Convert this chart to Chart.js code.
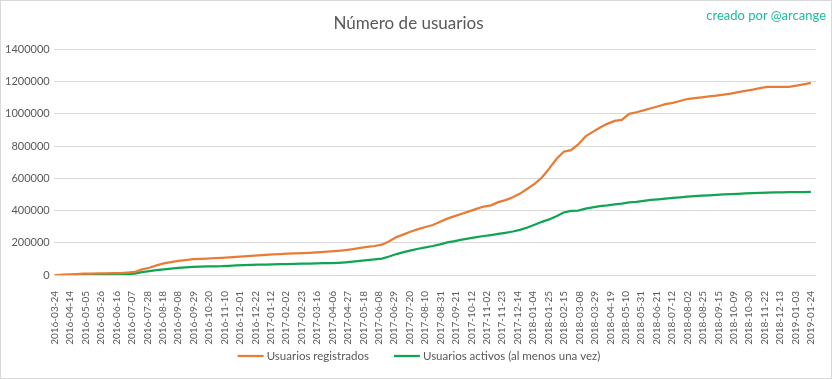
<!DOCTYPE html>
<html>
<head>
<meta charset="utf-8">
<script src="https://cdn.jsdelivr.net/npm/chart.js@4"></script>
<style>
  html, body { margin: 0; padding: 0; background: #fff; }
  #wrap { position: relative; width: 832px; height: 379px; box-sizing: border-box; border: 1px solid #d9d9d9; }
  canvas { position: absolute; left: 0; top: 0; }
  #credit { position: absolute; right: 5px; top: 6px; font-family: Lato, sans-serif; font-size: 13px; color: #1ABC9C; }
</style>
</head>
<body>
<div id="wrap">
  <canvas id="c" width="830" height="377"></canvas>
  <div id="credit">creado por @arcange</div>
</div>
<script>
// Tick labels (dates along the x axis)
const tickLabels = [
  "2016-03-24","2016-04-14","2016-05-05","2016-05-26","2016-06-16","2016-07-07","2016-07-28","2016-08-18",
  "2016-09-08","2016-09-29","2016-10-20","2016-11-10","2016-12-01","2016-12-22","2017-01-12","2017-02-02",
  "2017-02-23","2017-03-16","2017-04-06","2017-04-27","2017-05-18","2017-06-08","2017-06-29","2017-07-20",
  "2017-08-10","2017-08-31","2017-09-21","2017-10-12","2017-11-02","2017-11-23","2017-12-14","2018-01-04",
  "2018-01-25","2018-02-15","2018-03-08","2018-03-29","2018-04-19","2018-05-10","2018-05-31","2018-06-21",
  "2018-07-12","2018-08-02","2018-08-25","2018-09-15","2018-10-09","2018-10-30","2018-11-22","2018-12-13",
  "2019-01-03","2019-01-24"
];

const seriesNames = ["Usuarios registrados", "Usuarios activos (al menos una vez)"];

// Values sampled at evenly spaced positions from the first to the last tick label
const registrados = [
  0,1000,3000,6000,8000,9000,10000,10500,11000,12000,
  15000,19000,35000,45000,60000,72000,80000,87000,93000,98000,
  100000,102000,104000,107000,110000,113000,116000,119000,122000,125000,
  128000,130000,132000,134000,136000,138000,140000,143000,146000,150000,
  155000,160000,168000,175000,180000,188000,210000,235000,252000,270000,
  285000,298000,310000,330000,350000,365000,380000,395000,410000,425000,
  432000,452000,465000,482000,505000,535000,565000,605000,660000,720000,
  765000,775000,810000,860000,888000,915000,938000,956000,962000,1000000,
  1010000,1022000,1035000,1047000,1060000,1068000,1080000,1092000,1098000,1103000,
  1108000,1113000,1120000,1125000,1135000,1142000,1150000,1160000,1167000,1167000,
  1167000,1167000,1175000,1183000,1192000
];

const activos = [
  0,500,1500,2500,3000,3500,4000,4000,4500,5000,
  6000,9000,18000,24000,30000,35000,40000,44000,47000,50000,
  52000,53000,54000,55000,57000,59000,61000,63000,64000,65000,
  66000,67000,68000,69000,70000,71000,72000,73000,74000,76000,
  79000,83000,88000,93000,97000,102000,115000,130000,142000,153000,
  163000,172000,180000,190000,202000,210000,220000,227000,235000,242000,
  248000,255000,262000,270000,280000,295000,312000,330000,345000,365000,
  388000,398000,400000,412000,420000,428000,432000,438000,443000,450000,
  454000,460000,466000,470000,474000,478000,482000,486000,490000,492000,
  494000,497000,500000,502000,504000,506000,508000,510000,511000,512000,
  513000,514000,514000,515000,516000
];

const toPoints = arr => arr.map((v, k) => ({ x: k * (tickLabels.length - 1) / (arr.length - 1), y: v }));

const grey = '#595959';
const legendFont = '11.5px Lato';

// Bottom legend drawn from the datasets (line sample + label), spaced like the reference
const bottomLegend = {
  id: 'bottomLegend',
  afterDraw(chart) {
    const ctx = chart.ctx;
    const sets = chart.data.datasets;
    const lineW = 26, gapTxt = 3, gapItem = 25;
    ctx.save();
    ctx.font = legendFont;
    const widths = sets.map(d => lineW + gapTxt + ctx.measureText(d.label).width);
    const total = widths.reduce((a, b) => a + b, 0) + gapItem * (sets.length - 1);
    let x = chart.width / 2 - total / 2 + 3;
    const y = chart.height - 22;
    sets.forEach((d, i) => {
      ctx.strokeStyle = d.borderColor;
      ctx.lineWidth = 2.25;
      ctx.beginPath();
      ctx.moveTo(x, y);
      ctx.lineTo(x + lineW, y);
      ctx.stroke();
      ctx.fillStyle = grey;
      ctx.textBaseline = 'middle';
      ctx.textAlign = 'left';
      ctx.fillText(d.label, x + lineW + gapTxt, y);
      x += widths[i] + gapItem;
    });
    ctx.restore();
  }
};

new Chart(document.getElementById('c'), {
  type: 'line',
  data: {
    datasets: [
      { label: seriesNames[0], data: toPoints(registrados), borderColor: '#E97C35', backgroundColor: '#E97C35',
        borderWidth: 2.25, pointRadius: 0, tension: 0, fill: false },
      { label: seriesNames[1], data: toPoints(activos), borderColor: '#0FA552', backgroundColor: '#0FA552',
        borderWidth: 2.25, pointRadius: 0, tension: 0, fill: false }
    ]
  },
  plugins: [bottomLegend],
  options: {
    responsive: false,
    animation: false,
    layout: { padding: { left: 0, right: 15, top: 0, bottom: 29 } },
    plugins: {
      title: { display: true, text: 'Número de usuarios', color: grey,
               font: { family: 'Lato', size: 17, weight: 'normal' }, padding: { top: 12, bottom: 16 } },
      legend: { display: false },
      tooltip: { enabled: false }
    },
    scales: {
      x: {
        type: 'linear', min: -0.07, max: tickLabels.length - 1 + 0.33,
        afterBuildTicks: axis => { axis.ticks = tickLabels.map((_, i) => ({ value: i })); },
        afterFit: axis => { axis.height = 74; },
        ticks: { color: grey, font: { family: 'Lato', size: 10 }, minRotation: 90, maxRotation: 90, autoSkip: false,
                 padding: 8, callback: (v) => tickLabels[v] },
        grid: { display: false },
        border: { display: false }
      },
      y: {
        min: 0, max: 1400000,
        ticks: { stepSize: 200000, color: grey, font: { family: 'Lato', size: 11 }, padding: 4,
                 callback: v => String(v) },
        grid: { color: '#d9d9d9', drawTicks: false },
        border: { display: false }
      }
    }
  }
});
</script>
</body>
</html>
